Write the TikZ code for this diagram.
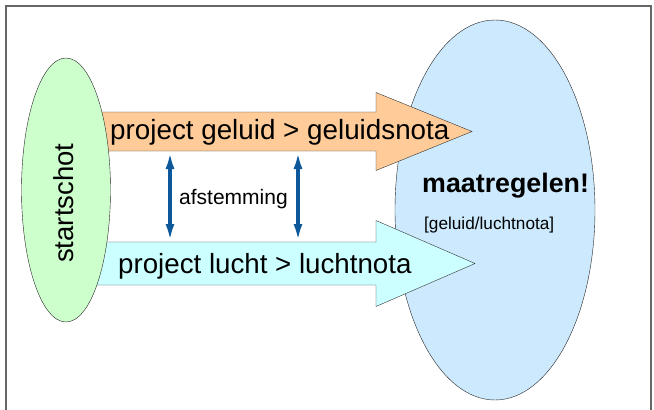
\documentclass[tikz,border=0pt]{standalone}
\usepackage{fontspec}
\setmainfont{Liberation Sans}
\usetikzlibrary{arrows.meta,shapes.geometric}
\definecolor{geluid}{RGB}{255,204,153}
\definecolor{lucht}{RGB}{204,255,255}
\definecolor{startgroen}{RGB}{204,255,204}
\definecolor{maatblauw}{RGB}{204,233,253}
\definecolor{afstemblauw}{RGB}{12,88,155}
\def\fatarrow[#1](#2)(#3:#4:#5){
	\draw[#1] (90,#2-#3) -- (376,#2-#3) -- (376,#2-#4) -- (#5,#2) -- (376,#2+#4) -- (376,#2+#3) -- (90,#2+#3) -- cycle; }
\tikzset{bubble/.style={ellipse,draw=black!85,thin,inner sep=0pt},
	caption/.style={anchor=base west,inner sep=0pt},
	afstempijl/.style={draw=afstemblauw,line width=3.2pt,{Latex[length=17pt,width=9pt]}-{Latex[length=17pt,width=9pt]}}}

\begin{document}
\begin{tikzpicture}[x=1pt,y=-1pt]
	\useasboundingbox (0,0) rectangle (654,410);
	\draw[black!60,line width=1.2pt] (6,420) -- (6,6) -- (651,6) -- (651,420);
	\node[bubble,fill=maatblauw,minimum width=200,minimum height=380] (maatregel) at (495,210) {};
	\fatarrow[draw=black!80,thin,fill=geluid](131.5)(19.5:39:472)
	\fatarrow[draw=black!80,thin,fill=lucht](263.5)(21.5:43:475)
	\node[bubble,fill=startgroen,minimum width=89,minimum height=264] (start) at (66,190) {};
	\node[caption,rotate=90,font=\fontsize{27.5}{30}\selectfont] (startschot) at (73,263) {startschot};
	\node[caption,font=\fontsize{27.8}{30}\selectfont] (geluidtxt) at (110,139) {project geluid > geluidsnota};
	\node[caption,font=\fontsize{27.7}{30}\selectfont] (luchttxt) at (118,273) {project lucht > luchtnota};
	\node[caption,font=\fontsize{21}{24}\selectfont] (afstemming) at (179,204) {afstemming};
	\node[caption,font=\fontsize{26.8}{30}\selectfont\bfseries] (maattxt) at (422,192) {maatregelen!};
	\node[caption,font=\fontsize{17.2}{20}\selectfont] (notatxt) at (424,229) {[geluid/luchtnota]};
	% afstemming tussen de twee projecten
	\coordinate (g1) at (170,152); \coordinate (l1) at (170,241);
	\coordinate (g2) at (298,152); \coordinate (l2) at (298,241);
	\draw[afstempijl] (g1) -- (l1);
	\draw[afstempijl] (g2) -- (l2);
\end{tikzpicture}
\end{document}
